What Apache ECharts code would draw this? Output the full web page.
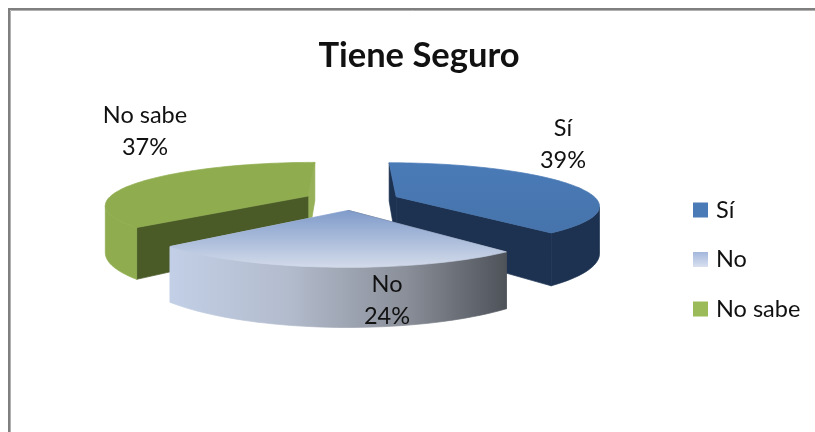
<!DOCTYPE html>
<html>
<head>
<meta charset="utf-8">
<style>
  html, body { margin: 0; background: #fff; }
  #main { width: 815px; height: 432px; }
</style>
<script src="https://cdn.jsdelivr.net/npm/echarts@6/dist/echarts.min.js"></script>
</head>
<body>
<div id="main"></div>
<script>
var categories = ['Sí', 'No', 'No sabe'];
var percents = [39, 24, 37];

var font = 'Lato';
var textColor = '#111';
// perspective of the pie plane, fitted to the picture
var cx = 351.5, cy = 200, radius = 201, explode = 0.24;
var depth = 41.5, persp = 0.19, wallH = 46;

function vgrad(a, b) {
  return new echarts.graphic.LinearGradient(0, 0, 0, 1, [{ offset: 0, color: a }, { offset: 1, color: b }]);
}
function hgrad(stops) {
  return new echarts.graphic.LinearGradient(0, 0, 1, 0, stops);
}

var looks = [
  { top: vgrad('#4a7bb7', '#4673ab'), rim: '#1d3251', wallStart: '#1d3251', wallEnd: '#1d3251', z: 2, labelX: 563, labelY: 144 },
  {
    top: vgrad('#7f9bca', '#d3dbea'),
    rim: hgrad([{ offset: 0, color: '#c2cfe6' }, { offset: 0.35, color: '#b3bccd' }, { offset: 0.7, color: '#8a8f99' }, { offset: 1, color: '#4e5259' }]),
    wallStart: '#4e5259', wallEnd: '#c2cfe6', z: 4, labelX: 387, labelY: 300
  },
  { top: '#8fad4f', rim: '#8fad4f', wallStart: '#4b5b28', wallEnd: '#95b059', z: 3, labelX: 145, labelY: 131 }
];
var legendColors = ['#4a7bb7', vgrad('#a3b7dc', '#d9e0ef'), '#9bbb59'];

function toRad(d) { return d * Math.PI / 180; }

function project(x, v, h) {
  var d = 1 - persp * v;
  return [cx + radius * x / d, cy + (depth * v + h) / d];
}

function sliceItem(index, look) {
  var before = 0;
  for (var i = 0; i < index; i++) before += percents[i];
  return function (params, api) {
    var a0 = before * 3.6;
    var a1 = a0 + api.value(0) * 3.6;
    var mid = toRad((a0 + a1) / 2);
    var ox = explode * Math.sin(mid);
    var ov = -explode * Math.cos(mid);
    var at = function (r, deg, h) {
      return project(ox + r * Math.sin(toRad(deg)), ov - r * Math.cos(toRad(deg)), h);
    };
    var angles = [];
    for (var d = a0; d < a1; d += 2) angles.push(d);
    angles.push(a1);

    var arcTop = angles.map(function (deg) { return at(1, deg, 0); });
    // only the part of the rim turned to the viewer: x falls as the angle grows
    var rimTop = [], rimBottom = [];
    angles.forEach(function (deg, k) {
      var next = angles[k + 1], prev = angles[k - 1];
      var facing = (next !== undefined && at(1, next, 0)[0] < at(1, deg, 0)[0]) ||
        (prev !== undefined && at(1, deg, 0)[0] < at(1, prev, 0)[0]);
      if (facing) {
        rimTop.push(at(1, deg, 0));
        rimBottom.unshift(at(1, deg, wallH));
      }
    });

    // thin stroke in the fill colour closes the hairlines between polygons
    var poly = function (points, fill) {
      return { type: 'polygon', shape: { points: points }, style: { fill: fill, stroke: fill, lineWidth: 0.7 } };
    };
    return {
      type: 'group',
      children: [
        poly([at(0, a1, 0), at(1, a1, 0), at(1, a1, wallH), at(0, a1, wallH)], look.wallEnd),
        poly([at(0, a0, 0), at(1, a0, 0), at(1, a0, wallH), at(0, a0, wallH)], look.wallStart),
        poly(rimTop.concat(rimBottom), look.rim),
        poly([at(0, a0, 0)].concat(arcTop), look.top),
        {
          type: 'text',
          style: {
            text: categories[index] + '\n' + api.value(0) + '%',
            x: look.labelX, y: look.labelY,
            align: 'center', verticalAlign: 'middle',
            font: '23.5px ' + font, lineHeight: 32, fill: textColor
          }
        }
      ]
    };
  };
}

var series = categories.map(function (name, i) {
  return {
    name: name,
    type: 'custom',
    coordinateSystem: 'none',
    z: looks[i].z,
    silent: true,
    animation: false,
    data: [[percents[i]]],
    renderItem: sliceItem(i, looks[i])
  };
});

var chart = echarts.init(document.getElementById('main'), null, { renderer: 'canvas' });
chart.setOption({
  animation: false,
  backgroundColor: '#fff',
  title: {
    text: 'Tiene Seguro',
    left: 414, top: 33, textAlign: 'center',
    textStyle: { fontFamily: font, fontWeight: 'bold', fontSize: 34.5, color: '#111' }
  },
  legend: {
    orient: 'vertical',
    left: 693, top: 198, padding: 0,
    icon: 'rect',
    itemWidth: 15, itemHeight: 15, itemGap: 25.5,
    selectedMode: false,
    textStyle: { fontFamily: font, fontSize: 23.5, color: textColor, padding: [0, 0, 0, 3] },
    data: categories.map(function (name, i) {
      return { name: name, itemStyle: { color: legendColors[i] } };
    })
  },
  graphic: [
    { type: 'polyline', shape: { points: [[9, 432], [9, 9], [815, 9]] }, style: { stroke: '#7f7f7f', lineWidth: 2, fill: null } },
    { type: 'polyline', shape: { points: [[10.5, 432], [10.5, 10.5], [815, 10.5]] }, style: { stroke: '#b0b0b0', lineWidth: 1, fill: null } }
  ],
  series: series
});
</script>
</body>
</html>
